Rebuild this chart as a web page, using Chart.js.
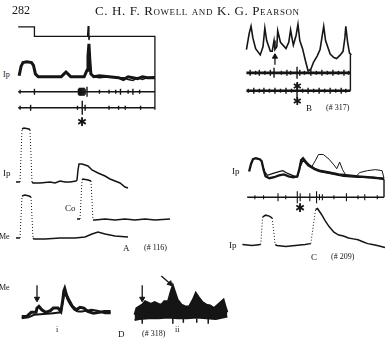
<!DOCTYPE html>
<html>
<head>
<meta charset="utf-8">
<script src="https://cdn.jsdelivr.net/npm/chart.js@4"></script>
<style>
  body { margin: 0; background: #fff; }
  #fig { position: relative; width: 390px; height: 340px; overflow: hidden; background: #fff;
         font-family: "Liberation Serif", "DejaVu Serif", serif; color: #151515; }
  #fig canvas { position: absolute; }
  .lbl { position: absolute; white-space: nowrap; line-height: 1; transform: translateY(-50%); }
  .star { font-family: "DejaVu Sans", sans-serif; font-weight: bold; transform: translate(-50%, -50%); }
</style>
</head>
<body>
<div id="fig"></div>
<script>
// time in ms (10 ms per unit step of the record), amplitude in arbitrary mV above each panel floor

// --- top left record: stimulus marker, Ip and two nerve recordings
const stim1_t = [50, 220, 220, 775, 782, 790, 797, 1480, 1480];
const stim1_v = [106, 106, 96, 96, 107, 92, 96, 96, 18];
const ip1_t = [60, 80, 100, 140, 190, 210, 230, 260, 400, 500, 530, 550, 570, 600, 740, 770, 780, 790, 800, 810, 840, 900, 1000, 1100, 1150, 1200, 1250, 1300, 1350, 1400, 1480];
const ip1_v = [54, 64, 68, 69, 68, 65, 56, 53, 53, 53, 56, 58, 56, 53, 53, 60, 75, 88, 70, 56, 53, 54, 53, 52, 50, 53, 52, 51, 53, 52, 52];
const ip1b_t = [840, 900, 1000, 1100, 1150, 1200, 1250, 1300, 1350, 1400, 1480];
const ip1b_v = [53, 52, 53, 52, 52, 50, 49, 52, 50, 52, 53];
const nerve1_t = [50, 1480];
const nerve1_v = [37, 37];
const spikes1_t = [70, 220, 680, 690, 700, 710, 720, 730, 740, 750, 770, 900, 1000, 1070, 1120, 1200, 1250, 1320];
const spikes1_a = [2, 3, 3, 4, 4, 4, 4, 4, 4, 3, 5, 2, 2, 2, 3, 2, 3, 2];
const nerve2_t = [50, 1480];
const nerve2_v = [20, 20];
const spikes2_t = [70, 180, 670, 720, 750, 1000, 1100, 1170, 1330];
const spikes2_a = [2, 3, 2, 7, 3, 2, 2, 2, 2];

// --- B (#317)
const b_t = [70, 100, 120, 140, 170, 220, 250, 270, 290, 330, 350, 370, 380, 400, 410, 440, 500, 530, 550, 570, 580, 610, 630, 650, 680, 710, 740, 770, 800, 840, 870, 890, 910, 930, 980, 1020, 1050, 1090, 1120, 1140, 1150, 1170, 1190, 1210];
const b_v = [62, 80, 88, 75, 63, 56, 65, 86, 72, 60, 60, 72, 62, 65, 83, 70, 63, 70, 84, 72, 67, 78, 90, 72, 63, 50, 38, 40, 48, 55, 62, 75, 88, 72, 57, 53, 52, 56, 60, 75, 88, 70, 58, 56];
const bEdge_t = [1200, 1200];
const bEdge_v = [56, 16];
const bNerve1_t = [70, 1200];
const bNerve1_v = [36, 36];
const bSpikes1_t = [110, 170, 210, 270, 330, 370, 450, 510, 550, 620, 650, 700, 770, 830, 890, 950, 1010, 1070, 1130, 1180];
const bSpikes1_a = [3, 2, 3, 2, 3, 5, 2, 3, 2, 6, 3, 2, 3, 2, 3, 2, 3, 2, 3, 2];
const bNerve2_t = [70, 1200];
const bNerve2_v = [16, 16];
const bSpikes2_t = [90, 150, 210, 260, 320, 380, 440, 500, 560, 620, 680, 740, 800, 860, 920, 980, 1040, 1100, 1150];
const bSpikes2_a = [2, 3, 2, 3, 2, 3, 2, 3, 2, 8, 2, 3, 2, 3, 2, 3, 2, 3, 2];
const bArrow_t = [380, 380];
const bArrow_v = [45, 54];

// --- A (#116)
const aIp_t = [160, 200, 220, 240, 290, 300, 320, 330, 400, 500, 550, 600, 650, 700, 760, 770, 780, 790, 820, 880, 920, 980, 1050, 1100, 1150, 1200, 1250, 1280];
const aIp_v = [73, 73, 126, 127, 126, 125, 73, 72, 72, 73, 72, 74, 73, 73, 74, 75, 85, 91, 91, 89, 85, 82, 79, 76, 74, 72, 68, 67];
const aCo_t = [770, 800, 820, 830, 880, 910, 930, 950, 1050, 1150, 1250, 1350, 1450, 1550, 1700];
const aCo_v = [36, 36, 75, 76, 75, 74, 35, 35, 36, 35, 36, 35, 36, 35, 36];
const aMe_t = [160, 200, 220, 250, 290, 310, 330, 340, 450, 600, 750, 850, 920, 980, 1050, 1150, 1280];
const aMe_v = [17, 17, 59, 60, 59, 58, 17, 16, 16, 17, 17, 18, 21, 23, 21, 19, 18];

// --- C (#209)
const cTop_t = [270, 290, 310, 340, 380, 400, 420, 440, 480, 530, 580, 630, 680, 730, 770, 790, 810, 830, 860, 900, 950, 1000, 1100, 1200, 1300, 1400, 1500, 1600, 1670];
const cTop_v = [90, 98, 103, 104, 103, 101, 92, 85, 83, 84, 86, 87, 85, 84, 85, 92, 102, 104, 100, 96, 93, 91, 89, 87, 86, 85, 84, 83, 82];
const cTop2_t = [400, 430, 460, 520, 580, 620, 670, 720, 770, 800, 830, 880, 950, 1000, 1100, 1250, 1400, 1550, 1670];
const cTop2_v = [100, 90, 86, 88, 90, 91, 88, 86, 84, 95, 102, 96, 92, 90, 88, 85, 84, 84, 83];
const cTop3_t = [920, 960, 990, 1040, 1100, 1150, 1180, 1210, 1240, 1280];
const cTop3_v = [95, 102, 108, 108, 103, 97, 93, 100, 92, 85];
const cTop4_t = [1380, 1420, 1500, 1580, 1650, 1670];
const cTop4_v = [85, 89, 91, 92, 91, 83];
const cEdge_t = [1670, 1670];
const cEdge_v = [82, 63];
const cNerve_t = [250, 1670];
const cNerve_v = [63, 63];
const cSpikes_t = [330, 420, 570, 650, 770, 800, 900, 970, 1000, 1030, 1150, 1280, 1400, 1470, 1600];
const cSpikes_a = [2, 2, 4, 2, 6, 4, 4, 6, 3, 3, 2, 4, 2, 3, 2];
const cLow_t = [200, 300, 390, 410, 440, 480, 510, 540, 560, 650, 750, 850, 910, 960, 980, 1020, 1060, 1100, 1150, 1200, 1250, 1300, 1350, 1400, 1450, 1500, 1550, 1600, 1680];
const cLow_v = [13, 12, 13, 42, 44, 43, 41, 13, 12, 11, 12, 13, 14, 50, 51, 45, 38, 32, 26, 23, 22, 20, 19, 18, 16, 14, 13, 12, 10];

// --- D (#318), i and ii
const dI_t = [70, 120, 140, 170, 220, 230, 250, 280, 320, 370, 400, 450, 480, 500, 510, 520, 540, 570, 600, 640, 680, 720, 760, 820, 880, 940, 1000];
const dI_v = [10, 10, 12, 15, 15, 20, 22, 18, 15, 17, 20, 20, 16, 30, 40, 43, 35, 28, 22, 18, 21, 20, 16, 14, 15, 16, 16];
const dI2_t = [70, 140, 200, 300, 400, 480, 500, 520, 550, 580, 620, 660, 700, 750, 800, 860, 940, 1000];
const dI2_v = [8, 9, 12, 13, 14, 15, 28, 40, 30, 24, 18, 16, 16, 17, 18, 17, 14, 14];
const dIIup_t = [1250, 1270, 1300, 1330, 1360, 1420, 1460, 1500, 1530, 1560, 1600, 1630, 1650, 1670, 1700, 1740, 1780, 1820, 1860, 1890, 1920, 1960, 2000, 2040, 2080, 2120, 2160, 2180, 2200, 2220];
const dIIup_v = [12, 20, 22, 24, 28, 25, 27, 25, 24, 28, 28, 40, 47, 40, 30, 24, 22, 22, 30, 38, 33, 27, 24, 23, 20, 24, 28, 30, 22, 15];
const dIIlow_t = [1250, 1300, 1400, 1500, 1600, 1700, 1800, 1900, 2000, 2100, 2220];
const dIIlow_v = [6, 7, 8, 8, 9, 8, 8, 9, 8, 7, 10];
const dIIspikes_t = [1330, 1650, 1760, 1900, 2020];
const dIIspikes_a = [3, 3, 2, 2, 3];
const dArrowI_t = [230, 230];
const dArrowII_t = [1330, 1330];
const dArrow_v = [47, 31];
const dArrowDiag_t = [1530, 1620];
const dArrowDiag_v = [58, 49];

const ink = '#151515';
const fig = document.getElementById('fig');

function pts(t, v) {
  return t.map((x, i) => ({ x: x, y: v[i] }));
}

function trace(t, v, w, extra) {
  return Object.assign({
    data: pts(t, v), borderColor: ink, borderWidth: w, pointRadius: 0,
    tension: 0, fill: false, clip: false
  }, extra || {});
}

// fast transitions were written as faint dots on the pen recorder
const dotted = {
  segment: {
    borderDash: ctx => Math.abs(ctx.p1.parsed.y - ctx.p0.parsed.y) > 20 ? [1, 2] : undefined,
    borderWidth: ctx => Math.abs(ctx.p1.parsed.y - ctx.p0.parsed.y) > 20 ? 1 : undefined
  }
};

function spikes(t, a, base, w) {
  return {
    data: t.map(x => ({ x: x, y: base })), showLine: false, pointStyle: 'line',
    pointRotation: 90, pointRadius: a, pointHoverRadius: a,
    pointBorderColor: ink, pointBorderWidth: w || 1, clip: false
  };
}

function arrow(t, v, rot) {
  return {
    data: pts(t, v), borderColor: ink, borderWidth: 1.3, pointRadius: [0, 3],
    pointStyle: 'triangle', pointRotation: rot, pointBackgroundColor: ink,
    pointBorderColor: ink, pointBorderWidth: 1, clip: false
  };
}

function panel(x, y, w, h, datasets) {
  const c = document.createElement('canvas');
  c.width = w;
  c.height = h;
  c.style.left = x + 'px';
  c.style.top = y + 'px';
  fig.appendChild(c);
  new Chart(c, {
    type: 'line',
    data: { datasets: datasets },
    options: {
      responsive: false,
      animation: false,
      events: [],
      layout: { padding: 0 },
      plugins: { legend: { display: false }, tooltip: { enabled: false } },
      scales: {
        x: { type: 'linear', display: false, min: 0, max: w * 10 },
        y: { display: false, min: 0, max: h }
      }
    }
  });
}

function label(text, x, y, size, cls) {
  const d = document.createElement('div');
  d.className = 'lbl' + (cls ? ' ' + cls : '');
  d.textContent = text;
  d.style.left = x + 'px';
  d.style.top = y + 'px';
  d.style.fontSize = size + 'px';
  fig.appendChild(d);
  return d;
}

// top left
panel(10, 15, 155, 115, [
  trace(stim1_t, stim1_v, 1.3),
  trace(ip1_t, ip1_v, 3),
  trace(ip1b_t, ip1b_v, 1.5),
  trace(nerve1_t, nerve1_v, 1.6),
  spikes(spikes1_t, spikes1_a, 37, 1.4),
  trace(nerve2_t, nerve2_v, 1.4),
  spikes(spikes2_t, spikes2_a, 20, 1.4)
]);

// B
panel(235, 15, 125, 95, [
  trace(b_t, b_v, 1.6),
  trace(bEdge_t, bEdge_v, 1.4),
  trace(bNerve1_t, bNerve1_v, 2.8),
  spikes(bSpikes1_t, bSpikes1_a, 36, 1.4),
  trace(bNerve2_t, bNerve2_v, 2.6),
  spikes(bSpikes2_t, bSpikes2_a, 16, 1.4),
  arrow(bArrow_t, bArrow_v, 0)
]);

// A
panel(0, 125, 175, 130, [
  trace(aIp_t, aIp_v, 1.5, dotted),
  trace(aCo_t, aCo_v, 1.5, dotted),
  trace(aMe_t, aMe_v, 1.5, dotted)
]);

// C
panel(220, 140, 170, 120, [
  trace(cTop_t, cTop_v, 2.3),
  trace(cTop2_t, cTop2_v, 1.3),
  trace(cTop3_t, cTop3_v, 1),
  trace(cTop4_t, cTop4_v, 1),
  trace(cEdge_t, cEdge_v, 1.4),
  trace(cNerve_t, cNerve_v, 1.5),
  spikes(cSpikes_t, cSpikes_a, 63, 1.1),
  trace(cLow_t, cLow_v, 1.5, dotted)
]);

// D
panel(10, 265, 230, 65, [
  trace(dI_t, dI_v, 3),
  trace(dI2_t, dI2_v, 2),
  trace(dIIup_t, dIIup_v, 2, { fill: '+1', backgroundColor: ink }),
  trace(dIIlow_t, dIIlow_v, 2),
  spikes(dIIspikes_t, dIIspikes_a, 5, 1.5),
  arrow(dArrowI_t, dArrow_v, 180),
  arrow(dArrowII_t, dArrow_v, 180),
  arrow(dArrowDiag_t, dArrowDiag_v, 135)
]);

// text
label('282', 12, 10, 12);
const head = label('C. H. F. Rowell and K. G. Pearson', 95, 10, 13);
head.style.fontVariant = 'small-caps';
head.style.letterSpacing = '0.6px';
label('Ip', 3, 75, 8);
label('Ip', 3, 173, 9);
label('Co', 65, 208, 9);
label('Me', -1, 237, 8);
label('A', 123, 248, 9);
label('(# 116)', 144, 248, 8);
label('B', 306, 108, 9);
label('(# 317)', 326, 108, 8);
label('Ip', 232, 171, 9);
label('Ip', 229, 245, 9);
label('C', 311, 257, 9);
label('(# 209)', 331, 257, 8);
label('Me', -1, 288, 8);
label('i', 56, 330, 8);
label('D', 118, 334, 9);
label('(# 318)', 142, 334, 8);
label('ii', 175, 330, 8);
label('✱', 82, 122, 12, 'star');
label('✱', 297, 86, 11, 'star');
label('✱', 297, 101, 11, 'star');
label('✱', 300, 208, 12, 'star');
</script>
</body>
</html>
